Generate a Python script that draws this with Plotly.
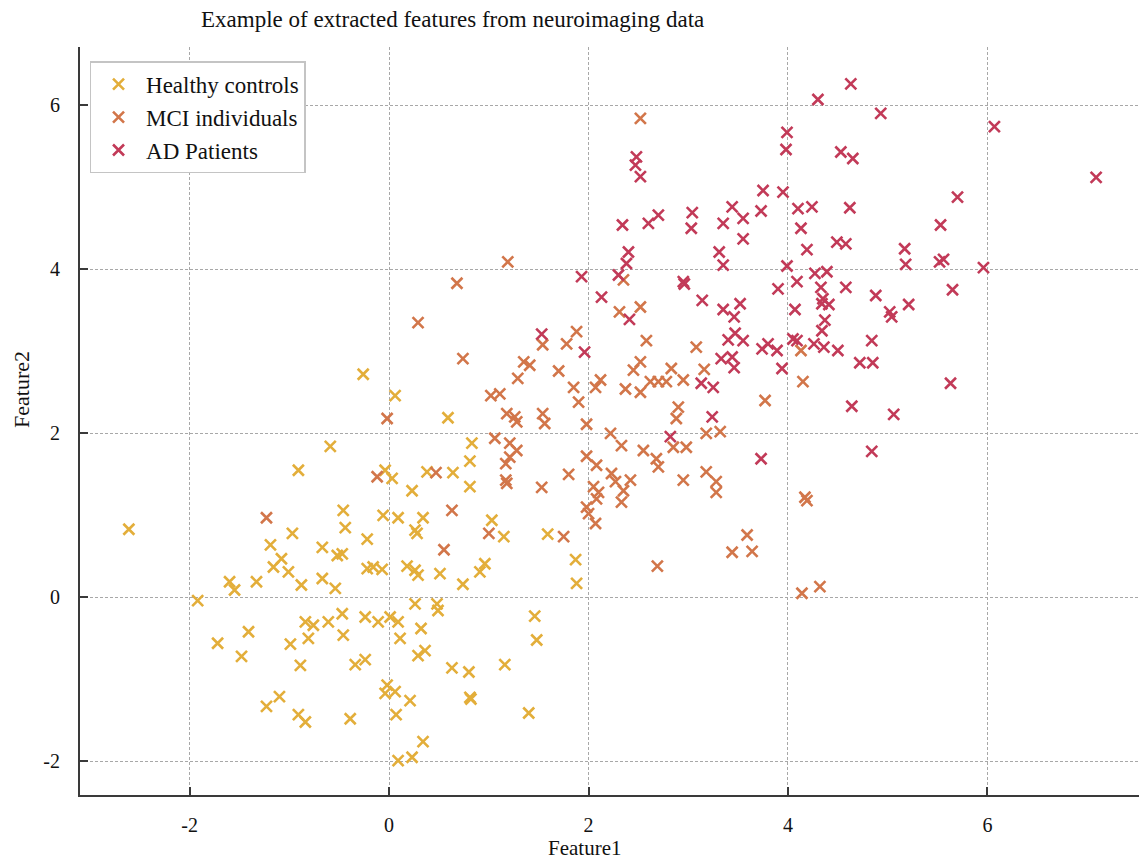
import plotly.graph_objects as go

# ---- data ----
hc_x = [-2.61, -1.92, -1.72, -1.60, -1.55, -1.48, -1.41, -1.33, -1.23, -1.19, -1.16, -1.10, -1.08, -1.01,
        -0.99, -0.97, -0.91, -0.91, -0.89, -0.88, -0.84, -0.84, -0.81, -0.76, -0.67, -0.67, -0.61, -0.59,
        -0.54, -0.52, -0.47, -0.47, -0.46, -0.46, -0.44, -0.39, -0.34, -0.26, -0.24, -0.24, -0.22, -0.22,
        -0.16, -0.11, -0.07, -0.06, -0.04, -0.02, -0.04, 0.01, 0.03, 0.06, 0.06, 0.07, 0.09, 0.09, 0.09,
        0.11, 0.18, 0.21, 0.23, 0.23, 0.26, 0.26, 0.26, 0.28, 0.29, 0.29, 0.32, 0.34, 0.34, 0.36, 0.38,
        0.48, 0.49, 0.51, 0.59, 0.63, 0.64, 0.74, 0.80, 0.81, 0.82, 0.81, 0.81, 0.83, 0.91, 0.96, 1.03,
        1.15, 1.16, 1.40, 1.46, 1.48, 1.59, 1.87, 1.88]
hc_y = [0.83, -0.04, -0.56, 0.19, 0.09, -0.72, -0.42, 0.19, -1.33, 0.64, 0.37, -1.21, 0.47, 0.31,
        -0.57, 0.78, 1.55, -1.43, -0.83, 0.15, -0.30, -1.52, -0.50, -0.34, 0.23, 0.61, -0.30, 1.84,
        0.11, 0.51, 0.53, -0.20, -0.46, 1.06, 0.85, -1.48, -0.82, 2.72, -0.24, -0.76, 0.71, 0.35,
        0.37, -0.30, 0.34, 1.00, 1.55, -1.07, -1.17, -0.24, 1.45, 2.46, -1.15, -1.43, -0.30, 0.97, -1.99,
        -0.50, 0.38, -1.26, 1.30, -1.95, 0.33, -0.08, 0.82, 0.78, 0.27, -0.71, -0.38, 0.97, -1.76, -0.65, 1.53,
        -0.08, -0.16, 0.29, 2.19, -0.86, 1.52, 0.16, -0.91, -1.22, -1.24, 1.66, 1.35, 1.88, 0.31, 0.41, 0.94,
        0.74, -0.82, -1.41, -0.23, -0.52, 0.77, 0.46, 0.17]

mci_x = [-1.23, -0.12, -0.02, 0.29, 0.47, 0.55, 0.63, 0.68, 0.74, 1.00, 1.02, 1.06, 1.11, 1.17, 1.17,
         1.18, 1.18, 1.19, 1.21, 1.21, 1.26, 1.28, 1.28, 1.29, 1.35, 1.41, 1.53, 1.54, 1.54, 1.56, 1.70,
         1.75, 1.78, 1.80, 1.85, 1.88, 1.90, 1.98, 1.98, 1.98, 2.00, 2.05, 2.07, 2.07, 2.08, 2.08, 2.10,
         2.12, 2.22, 2.23, 2.27, 2.31, 2.33, 2.33, 2.35, 2.35, 2.37, 2.42, 2.45, 2.52, 2.52, 2.52, 2.52,
         2.55, 2.58, 2.62, 2.68, 2.69, 2.70, 2.70, 2.78, 2.83, 2.85, 2.88, 2.90, 2.95, 2.95, 2.98, 3.08,
         3.16, 3.18, 3.18, 3.28, 3.28, 3.32, 3.44, 3.59, 3.64, 3.77, 4.13, 4.15, 4.17, 4.19, 4.14, 4.32]
mci_y = [0.97, 1.47, 2.18, 3.35, 1.52, 0.58, 1.06, 3.83, 2.91, 0.78, 2.46, 1.94, 2.48, 1.63, 1.43,
         1.39, 2.24, 4.09, 1.88, 1.71, 2.20, 2.14, 1.79, 2.67, 2.87, 2.83, 1.34, 3.08, 2.24, 2.12, 2.76,
         0.74, 3.09, 1.50, 2.56, 3.24, 2.38, 2.11, 1.72, 1.10, 1.02, 1.35, 2.56, 0.90, 1.61, 1.20, 1.28,
         2.65, 2.00, 1.51, 1.41, 3.48, 1.85, 1.16, 1.30, 3.87, 2.54, 1.43, 2.77, 2.87, 2.50, 3.54, 5.84,
         1.79, 3.13, 2.63, 1.69, 0.38, 2.63, 1.59, 2.63, 2.79, 1.83, 2.18, 2.32, 2.65, 1.43, 1.83, 3.05,
         2.78, 2.00, 1.53, 1.41, 1.28, 2.02, 0.55, 0.76, 0.56, 2.40, 3.01, 2.63, 1.22, 1.18, 0.05, 0.13]

ad_x = [1.53, 1.93, 1.96, 2.13, 2.30, 2.34, 2.38, 2.40, 2.41, 2.47, 2.48, 2.52, 2.60, 2.70, 2.82, 2.95,
        2.96, 3.03, 3.04, 3.13, 3.14, 3.24, 3.25, 3.31, 3.33, 3.35, 3.35, 3.35, 3.40, 3.44, 3.44, 3.46,
        3.46, 3.47, 3.52, 3.55, 3.55, 3.55, 3.73, 3.73, 3.74, 3.75, 3.80, 3.89, 3.90, 3.94, 3.95, 3.99,
        3.98, 3.99, 4.05, 4.07, 4.09, 4.09, 4.10, 4.13, 4.19, 4.24, 4.26, 4.27, 4.30, 4.33, 4.34, 4.34,
        4.35, 4.36, 4.37, 4.39, 4.41, 4.49, 4.50, 4.53, 4.58, 4.58, 4.62, 4.63, 4.64, 4.65, 4.72, 4.84,
        4.84, 4.85, 4.88, 4.93, 5.02, 5.04, 5.06, 5.17, 5.18, 5.21, 5.52, 5.53, 5.56, 5.63, 5.65, 5.70,
        5.96, 6.07, 7.09]
ad_y = [3.21, 3.91, 2.99, 3.66, 3.93, 4.54, 4.07, 4.21, 3.39, 5.27, 5.37, 5.13, 4.56, 4.66, 1.96, 3.85,
        3.82, 4.50, 4.69, 2.61, 3.62, 2.20, 2.56, 4.21, 2.91, 4.05, 4.56, 3.51, 3.14, 4.76, 2.93, 3.42,
        2.80, 3.22, 3.58, 3.13, 4.62, 4.37, 4.71, 1.69, 3.03, 4.96, 3.09, 3.01, 3.76, 2.79, 4.94, 5.67,
        5.46, 4.04, 3.15, 3.51, 3.85, 3.13, 4.74, 4.50, 4.24, 4.76, 3.09, 3.95, 6.07, 3.78, 3.58, 3.25,
        3.64, 3.05, 3.38, 3.97, 3.57, 4.33, 3.01, 5.43, 4.31, 3.78, 4.75, 6.26, 2.33, 5.35, 2.86, 3.13,
        1.78, 2.86, 3.68, 5.90, 3.48, 3.42, 2.23, 4.25, 4.06, 3.57, 4.09, 4.54, 4.12, 2.61, 3.75, 4.88,
        4.02, 5.74, 5.12]

group_names = ["Healthy controls", "MCI individuals", "AD Patients"]
group_colors = ["#E3AE3A", "#D2764A", "#C23A58"]

x_tick_vals = [-2, 0, 2, 4, 6]
x_tick_text = ["-2", "0", "2", "4", "6"]
y_tick_vals = [-2, 0, 2, 4, 6]
y_tick_text = ["-2", "0", "2", "4", "6"]

FONT = "Liberation Serif, Times New Roman, serif"

fig = go.Figure()
for name, color, xs, ys in zip(group_names, group_colors,
                               [hc_x, mci_x, ad_x], [hc_y, mci_y, ad_y]):
    fig.add_trace(go.Scatter(
        x=xs, y=ys, mode="markers", name=name,
        marker=dict(symbol="x-thin", size=11, color=color,
                    line=dict(width=2.6, color=color)),
    ))

axis_common = dict(
    showline=True, linecolor="#3a3a3a", linewidth=2,
    ticks="inside", ticklen=8, tickwidth=1.5, tickcolor="#3a3a3a",
    showgrid=True, gridcolor="#a8a8a8", gridwidth=1, griddash="3px,2px",
    zeroline=False, mirror=False,
    tickfont=dict(family=FONT, size=20, color="#111111"),
)

fig.update_layout(
    width=1139, height=863,
    margin=dict(l=80, r=0, t=47, b=68),
    paper_bgcolor="white", plot_bgcolor="white",
    font=dict(family=FONT, color="#111111"),
    showlegend=True,
    legend=dict(
        x=0.009, y=0.981, xanchor="left", yanchor="top",
        bgcolor="white", bordercolor="#c4c4c4", borderwidth=1.5,
        font=dict(family=FONT, size=23, color="#111111"),
        itemwidth=45,
    ),
    xaxis=dict(range=[-3.10, 7.52], tickvals=x_tick_vals, ticktext=x_tick_text,
               ticklabelstandoff=11, **axis_common),
    yaxis=dict(range=[-2.41, 6.71], tickvals=y_tick_vals, ticktext=y_tick_text,
               ticklabelstandoff=14, **axis_common),
    annotations=[
        dict(text="Example of extracted features from neuroimaging data",
             xref="paper", yref="paper", x=(452 - 80) / 1059, y=1 + (47 - 20) / 748,
             xanchor="center", yanchor="middle", showarrow=False,
             font=dict(family=FONT, size=23, color="#111111")),
        dict(text="Feature1", xref="paper", yref="paper",
             x=(584 - 80) / 1059, y=-(862 - 795) / 748,
             xanchor="center", yanchor="bottom", showarrow=False,
             font=dict(family=FONT, size=21, color="#111111")),
        dict(text="Feature2", xref="paper", yref="paper",
             x=-(80 - 22) / 1059, y=(795 - 390) / 748, textangle=-90,
             xanchor="center", yanchor="middle", showarrow=False,
             font=dict(family=FONT, size=22, color="#111111")),
    ],
)

fig.write_html("out.html",
               config={"displayModeBar": False},
               post_script="document.body.style.margin='0';document.body.style.padding='0';")
